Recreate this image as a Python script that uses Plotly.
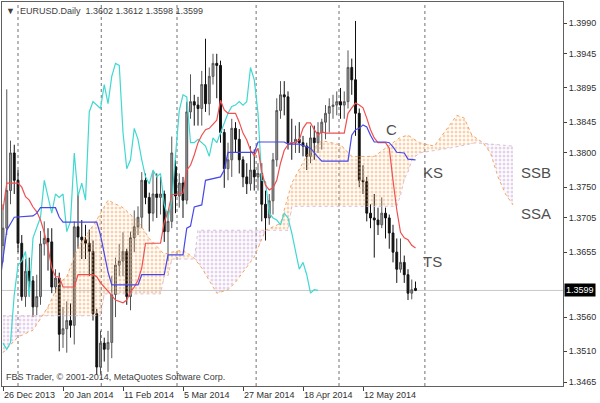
import numpy as np
import plotly.graph_objects as go

# ---------------- data (bar index 0 = 26 Dec 2013) ----------------
OPEN = [1.3665,1.3690,1.3745,1.3800,1.3760,1.3668,1.3590,1.3627,1.3613,1.3575,
        1.3590,1.3667,1.3675,1.3670,1.3604,1.3617,1.3535,1.3543,1.3555,1.3548,
        1.3692,1.3677,1.3673,1.3668,1.3656,1.3565,1.3487,1.3522,1.3513,1.3523,
        1.3593,1.3636,1.3642,1.3656,1.3590,1.3676,1.3692,1.3706,1.3760,1.3735,
        1.3712,1.3740,1.3735,1.3740,1.3685,1.3700,1.3780,1.3737,1.3756,1.3731,
        1.3860,1.3875,1.3870,1.3865,1.3900,1.3872,1.3912,1.3931,1.3928,1.3830,
        1.3777,1.3790,1.3836,1.3820,1.3790,1.3765,1.3755,1.3775,1.3765,1.3770,
        1.3725,1.3705,1.3730,1.3790,1.3862,1.3885,1.3882,1.3815,1.3815,1.3820,
        1.3815,1.3810,1.3795,1.3822,1.3815,1.3830,1.3845,1.3858,1.3868,1.3870,
        1.3875,1.3870,1.3875,1.3925,1.3907,1.3858,1.3760,1.3758,1.3712,1.3705,
        1.3702,1.3695,1.3712,1.3705,1.3683,1.3655,1.3630,1.3640,1.3622,1.3595,
        1.3602]
HIGH = [1.3725,1.3893,1.3818,1.3812,1.3775,1.3680,1.3645,1.3647,1.3620,1.3622,
        1.3686,1.3700,1.3690,1.3690,1.3630,1.3625,1.3575,1.3583,1.3580,1.3700,
        1.3740,1.3702,1.3695,1.3688,1.3672,1.3572,1.3540,1.3530,1.3540,1.3620,
        1.3647,1.3667,1.3684,1.3660,1.3685,1.3716,1.3722,1.3772,1.3770,1.3742,
        1.3773,1.3770,1.3765,1.3745,1.3715,1.3824,1.3790,1.3770,1.3765,1.3875,
        1.3915,1.3885,1.3882,1.3920,1.3967,1.3925,1.3945,1.3945,1.3935,1.3835,
        1.3815,1.3850,1.3845,1.3835,1.3795,1.3785,1.3810,1.3805,1.3785,1.3785,
        1.3745,1.3740,1.3800,1.3880,1.3905,1.3905,1.3890,1.3850,1.3840,1.3845,
        1.3825,1.3815,1.3840,1.3840,1.3845,1.3850,1.3870,1.3880,1.3885,1.3890,
        1.3895,1.3890,1.3950,1.3938,1.3993,1.3865,1.3782,1.3765,1.3725,1.3740,
        1.3720,1.3735,1.3720,1.3710,1.3695,1.3675,1.3675,1.3650,1.3630,1.3615,
        1.3612]
LOW = [1.3640,1.3680,1.3725,1.3740,1.3655,1.3584,1.3575,1.3590,1.3560,1.3563,
       1.3578,1.3650,1.3628,1.3595,1.3595,1.3510,1.3515,1.3508,1.3530,1.3520,
       1.3660,1.3645,1.3645,1.3620,1.3555,1.3476,1.3477,1.3495,1.3480,1.3500,
       1.3560,1.3620,1.3620,1.3578,1.3570,1.3655,1.3680,1.3690,1.3725,1.3685,
       1.3700,1.3705,1.3710,1.3670,1.3642,1.3690,1.3712,1.3720,1.3705,1.3725,
       1.3850,1.3840,1.3840,1.3840,1.3860,1.3855,1.3900,1.3880,1.3815,1.3749,
       1.3760,1.3765,1.3800,1.3770,1.3750,1.3740,1.3745,1.3745,1.3745,1.3700,
       1.3672,1.3695,1.3710,1.3780,1.3850,1.3855,1.3805,1.3790,1.3800,1.3800,
       1.3795,1.3775,1.3785,1.3790,1.3800,1.3805,1.3820,1.3830,1.3850,1.3855,
       1.3850,1.3850,1.3865,1.3885,1.3825,1.3750,1.3740,1.3700,1.3690,1.3647,
       1.3680,1.3690,1.3675,1.3660,1.3640,1.3610,1.3625,1.3610,1.3585,1.3586,
       1.3598]
CLOSE = [1.3690,1.3745,1.3800,1.3760,1.3668,1.3590,1.3627,1.3613,1.3575,1.3590,
         1.3667,1.3675,1.3670,1.3604,1.3617,1.3535,1.3543,1.3555,1.3548,1.3692,
         1.3677,1.3673,1.3668,1.3656,1.3565,1.3487,1.3522,1.3513,1.3523,1.3593,
         1.3636,1.3642,1.3656,1.3590,1.3676,1.3692,1.3706,1.3760,1.3735,1.3712,
         1.3740,1.3735,1.3740,1.3685,1.3700,1.3800,1.3737,1.3756,1.3731,1.3860,
         1.3875,1.3870,1.3865,1.3900,1.3872,1.3912,1.3931,1.3928,1.3830,1.3777,
         1.3790,1.3836,1.3820,1.3790,1.3765,1.3755,1.3775,1.3765,1.3770,1.3725,
         1.3705,1.3730,1.3790,1.3862,1.3885,1.3882,1.3815,1.3815,1.3820,1.3815,
         1.3810,1.3795,1.3822,1.3815,1.3830,1.3845,1.3858,1.3868,1.3870,1.3875,
         1.3870,1.3875,1.3925,1.3907,1.3858,1.3760,1.3758,1.3712,1.3705,1.3702,
         1.3695,1.3712,1.3705,1.3683,1.3655,1.3630,1.3640,1.3622,1.3595,1.3600,
         1.3599]

# Tenkan-sen (red) and Kijun-sen (blue), read as (bar, value) break points
TENKAN_IDX = [0,1,4,5,6,7,8,9,10,11,12,13,14,15,16,19,20,24,25,26,28,29,30,32,33,34,35,36,37,38,
              42,43,44,45,48,49,50,51,52,53,54,55,56,57,58,59,60,62,63,64,65,66,67,68,69,70,71,72,
              73,74,75,76,77,78,79,80,81,82,83,84,85,86,91,92,93,94,95,96,97,98,99,100,102,103,104,
              105,106,107,108,109,110]
TENKAN = [1.3717,1.3756,1.3756,1.3750,1.3736,1.3731,1.3721,1.3714,1.3702,1.3684,1.3661,1.3632,
          1.3619,1.3619,1.3604,1.3604,1.3622,1.3622,1.3619,1.3610,1.3598,1.3591,1.3585,1.3581,
          1.3585,1.3597,1.3604,1.3614,1.3632,1.3668,1.3668,1.3699,1.3714,1.3739,1.3741,1.3775,
          1.3782,1.3797,1.3815,1.3826,1.3834,1.3836,1.3842,1.3848,1.3877,1.3863,1.3858,1.3858,
          1.3845,1.3829,1.3819,1.3804,1.3796,1.3807,1.3772,1.3753,1.3746,1.3749,1.3760,1.3785,
          1.3804,1.3812,1.3815,1.3815,1.3819,1.3836,1.3844,1.3844,1.3834,1.3826,1.3831,1.3829,
          1.3829,1.3858,1.3866,1.3873,1.3870,1.3866,1.3851,1.3834,1.3822,1.3815,1.3815,1.3807,
          1.3760,1.3717,1.3684,1.3676,1.3673,1.3665,1.3661]
KIJUN_IDX = [-1,1,3,8,9,10,14,15,16,25,26,27,28,29,36,37,43,44,48,49,50,51,53,54,58,59,60,67,68,
             75,76,79,81,82,84,85,92,93,94,95,96,97,98,99,102,103,104,105,107,108,110]
KIJUN = [1.3604,1.3687,1.3706,1.3708,1.3712,1.3720,1.3720,1.3706,1.3699,1.3699,1.3680,1.3651,
         1.3626,1.3607,1.3607,1.3622,1.3622,1.3651,1.3651,1.3690,1.3693,1.3721,1.3724,1.3760,
         1.3765,1.3775,1.3801,1.3801,1.3816,1.3816,1.3813,1.3813,1.3809,1.3807,1.3794,1.3788,
         1.3788,1.3826,1.3834,1.3836,1.3841,1.3838,1.3826,1.3816,1.3816,1.3815,1.3809,1.3801,
         1.3800,1.3791,1.3790]

# Senkou spans (cloud), shifted 26 bars forward
SSA_IDX = [0,4,8,12,15,17,20,25,28,32,36,39,43,45,48,51,53,57,60,62,67,70,74,77,81,85,90,93,99,
           103,106,108,111,115,119,121,123,125,128,130,132,134,136]
SSA = [1.3508,1.3531,1.3541,1.3575,1.3610,1.3619,1.3662,1.3702,1.3731,1.3720,1.3700,1.3675,
       1.3652,1.3655,1.3658,1.3646,1.3632,1.3595,1.3600,1.3611,1.3648,1.3687,1.3697,1.3756,
       1.3796,1.3818,1.3812,1.3795,1.3795,1.3811,1.3823,1.3826,1.3815,1.3810,1.3840,1.3855,
       1.3851,1.3826,1.3815,1.3800,1.3765,1.3740,1.3724]
SSB_IDX = [0,26,27,42,43,44,45,51,52,76,77,105,106,107,108,109,111,120,126,136]
SSB = [1.3562,1.3562,1.3594,1.3594,1.3620,1.3620,1.3645,1.3645,1.3687,1.3687,1.3722,1.3722,
       1.3738,1.3762,1.3772,1.3790,1.3800,1.3808,1.3815,1.3810]

CHIKOU_SHIFT = 26
TICK_IDX = [0, 16, 32, 48, 64, 80, 96]
TICK_TEXT = ["26 Dec 2013", "20 Jan 2014", "11 Feb 2014", "5 Mar 2014",
             "27 Mar 2014", "18 Apr 2014", "12 May 2014"]
GRID_IDX = [4.0, 26.2, 46.4, 67.5, 89.6, 112.5]
Y_TICKS = [1.3990, 1.3945, 1.3895, 1.3845, 1.3800, 1.3750, 1.3705, 1.3655, 1.3560, 1.3510, 1.3465]
LAST_PRICE = CLOSE[-1]

FONT = "Liberation Sans, Arial, sans-serif"
idx = np.arange(len(CLOSE))

fig = go.Figure()

# ---- cloud fills (dotted) ----
grid = np.linspace(0, max(SSA_IDX), 2721)
a = np.interp(grid, SSA_IDX, SSA)
b = np.interp(grid, SSB_IDX, SSB)
none = dict(width=0, color="rgba(0,0,0,0)")
fig.add_trace(go.Scatter(x=grid, y=b, mode="lines", line=none, hoverinfo="skip", showlegend=False))
fig.add_trace(go.Scatter(x=grid, y=np.maximum(a, b), mode="lines", line=none, fill="tonexty",
                         fillcolor="rgba(0,0,0,0)",
                         fillpattern=dict(shape=".", fgcolor="#f4a460", bgcolor="rgba(0,0,0,0)",
                                          size=4, solidity=0.45),
                         hoverinfo="skip", showlegend=False))
fig.add_trace(go.Scatter(x=grid, y=b, mode="lines", line=none, hoverinfo="skip", showlegend=False))
fig.add_trace(go.Scatter(x=grid, y=np.minimum(a, b), mode="lines", line=none, fill="tonexty",
                         fillcolor="rgba(0,0,0,0)",
                         fillpattern=dict(shape=".", fgcolor="#c9a6d6", bgcolor="rgba(0,0,0,0)",
                                          size=4, solidity=0.45),
                         hoverinfo="skip", showlegend=False))
fig.add_trace(go.Scatter(x=SSA_IDX, y=SSA, mode="lines",
                         line=dict(color="#f4a460", width=1, dash="dot"), showlegend=False))
fig.add_trace(go.Scatter(x=SSB_IDX, y=SSB, mode="lines",
                         line=dict(color="#d8bfd8", width=1, dash="dot"), showlegend=False))

# ---- Chikou span (close shifted back) ----
fig.add_trace(go.Scatter(x=idx[:-CHIKOU_SHIFT], y=CLOSE[CHIKOU_SHIFT:], mode="lines",
                         line=dict(color="#40d8d0", width=1.2), showlegend=False))

# ---- candles ----
fig.add_trace(go.Candlestick(x=idx, open=OPEN, high=HIGH, low=LOW, close=CLOSE,
                             increasing=dict(line=dict(color="#555555", width=1), fillcolor="#9c9c9c"),
                             decreasing=dict(line=dict(color="#111111", width=1), fillcolor="#111111"),
                             whiskerwidth=0, showlegend=False))

# ---- Tenkan / Kijun ----
fig.add_trace(go.Scatter(x=TENKAN_IDX, y=TENKAN, mode="lines",
                         line=dict(color="#f05050", width=1.2), showlegend=False))
fig.add_trace(go.Scatter(x=KIJUN_IDX, y=KIJUN, mode="lines",
                         line=dict(color="#4848e8", width=1.2), showlegend=False))

# ---- grid + last price line ----
for g in GRID_IDX:
    fig.add_shape(type="line", x0=g, x1=g, y0=0, y1=1, yref="paper",
                  line=dict(color="#707070", width=1, dash="dot"), layer="below")
fig.add_shape(type="line", x0=0, x1=1, xref="paper", y0=LAST_PRICE, y1=LAST_PRICE,
              line=dict(color="#c8c8c8", width=1), layer="below")

# ---- labels ----
for txt, xi, yv in [("C", 103.5, 1.3834), ("KS", 114.6, 1.3772), ("TS", 114.6, 1.3641),
                    ("SSB", 142.0, 1.3772), ("SSA", 142.0, 1.3712)]:
    fig.add_annotation(x=xi, y=yv, text=txt, showarrow=False, xanchor="center",
                       font=dict(family=FONT, size=15, color="#505050"))

fig.add_annotation(x=0.004, y=0.995, xref="paper", yref="paper", xanchor="left", yanchor="top",
                   text="▼  EURUSD.Daily  1.3602 1.3612 1.3598 1.3599", showarrow=False,
                   font=dict(family=FONT, size=9, color="#404040"))
fig.add_annotation(x=0.004, y=0.005, xref="paper", yref="paper", xanchor="left", yanchor="bottom",
                   text="FBS Trader, © 2001-2014, MetaQuotes Software Corp.", showarrow=False,
                   font=dict(family=FONT, size=9, color="#404040"))
fig.add_annotation(x=1, xref="paper", y=LAST_PRICE, xanchor="left", xshift=1,
                   text="%.4f" % LAST_PRICE, showarrow=False, bgcolor="#000000",
                   font=dict(family=FONT, size=9, color="#ffffff"), borderpad=1)

fig.update_layout(
    width=600, height=403,
    margin=dict(l=2, r=37, t=2, b=17),
    paper_bgcolor="white", plot_bgcolor="white",
    showlegend=False,
    xaxis=dict(range=[-0.27, 149.33], tickmode="array", tickvals=TICK_IDX, ticktext=TICK_TEXT,
               ticks="outside", ticklen=4, tickcolor="#404040", showgrid=False, zeroline=False,
               showline=True, linecolor="#606060", linewidth=1, mirror=True,
               ticklabelposition="outside right",
               tickfont=dict(family=FONT, size=9, color="#303030"),
               rangeslider=dict(visible=False)),
    yaxis=dict(range=[1.34593, 1.40207], side="right", tickmode="array", tickvals=Y_TICKS,
               tickformat=".4f", ticks="outside", ticklen=3, tickcolor="#404040",
               showgrid=False, zeroline=False, showline=True, linecolor="#606060",
               linewidth=1, mirror=True,
               tickfont=dict(family=FONT, size=9, color="#303030")),
)

fig.write_html("out.html", config={"displayModeBar": False},
               post_script="document.body.style.margin='0';document.body.style.overflow='hidden';")
